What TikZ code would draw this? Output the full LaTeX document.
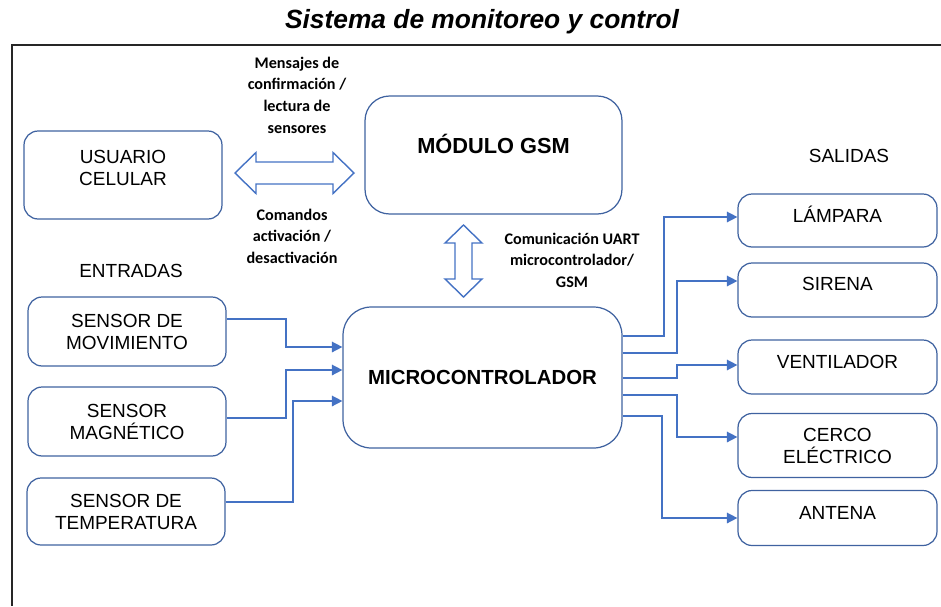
\documentclass[tikz,border=0pt]{standalone}
\usepackage{fontspec}
\setmainfont{Liberation Sans}
\newfontfamily\calibri{Carlito}
\usetikzlibrary{arrows.meta}
\definecolor{azul}{RGB}{68,114,196}
\definecolor{borde}{RGB}{63,98,160}

\begin{document}
\begin{tikzpicture}[x=0.02cm, y=-0.02cm,
  caja/.style={draw=borde, line width=0.7pt, rounded corners=8pt, align=center,
    font=\fontsize{10.8}{12.5}\selectfont, minimum width=3.96cm, inner sep=2pt},
  flecha/.style={draw=azul, line width=0.85pt, -{Triangle[length=6pt,width=6pt]}},
  bloque/.style={draw=azul, fill=white, line width=0.8pt, line join=miter},
  nota/.style={align=center, font=\calibri\bfseries\fontsize{9.2}{12.3}\selectfont}]
\useasboundingbox (0,0) rectangle (941,606);

% marco
\draw[line width=1.3pt, black!85] (941,45) -- (12,45) -- (12,606);
\node[font=\bfseries\itshape\fontsize{15}{18}\selectfont] (titulo) at (482,22) {Sistema de monitoreo y control};

% bloques principales
\node[caja, minimum height=1.76cm, text depth=0.28cm] (usuario) at (123,175) {USUARIO\\CELULAR};
\node[caja, minimum width=5.14cm, minimum height=2.36cm, rounded corners=14pt, text depth=0.44cm,
  font=\bfseries\fontsize{12.4}{14}\selectfont] (gsm) at (493.5,155) {MÓDULO GSM};
\node[caja, minimum width=5.58cm, minimum height=2.82cm, rounded corners=16pt,
  font=\bfseries\fontsize{11.6}{14}\selectfont] (mcu) at (482.5,377.5) {MICROCONTROLADOR};

% entradas
\node[font=\fontsize{10.8}{12.5}\selectfont] (entradas) at (131,271) {ENTRADAS};
\node[caja, minimum height=1.38cm] (movimiento) at (127,331.5) {SENSOR DE\\MOVIMIENTO};
\node[caja, minimum height=1.38cm] (magnetico) at (127,421.5) {SENSOR\\MAGNÉTICO};
\node[caja, minimum height=1.34cm] (temperatura) at (126,511.5) {SENSOR DE\\TEMPERATURA};

% salidas
\node[font=\fontsize{10.8}{12.5}\selectfont] (salidas) at (849,156) {SALIDAS};
\node[caja, minimum width=3.98cm, minimum height=1.06cm, text depth=0.26cm] (lampara) at (837.5,220.5) {LÁMPARA};
\node[caja, minimum width=3.98cm, minimum height=1.08cm, text depth=0.24cm] (sirena) at (837.5,290) {SIRENA};
\node[caja, minimum width=3.98cm, minimum height=1.08cm, text depth=0.22cm] (ventilador) at (837.5,367) {VENTILADOR};
\node[caja, minimum width=3.98cm, minimum height=1.28cm] (cerco) at (837.5,445.5) {CERCO\\ELÉCTRICO};
\node[caja, minimum width=3.98cm, minimum height=1.10cm, text depth=0.22cm] (antena) at (837.5,518) {ANTENA};

% comunicacion
\node[nota] (mensajes) at (297,95) {Mensajes de\\confirmación /\\lectura de\\sensores};
\node[nota] (comandos) at (292,236) {Comandos\\activación /\\desactivación};
\node[nota] (uart) at (572,260) {Comunicación UART\\microcontrolador/\\GSM};
\draw[bloque] (235,173) -- (256,152.5) -- (256,162) -- (333,162) -- (333,152.5) -- (354,173)
  -- (333,193.5) -- (333,184) -- (256,184) -- (256,193.5) -- cycle;
\draw[bloque] (463.5,225) -- (482,243) -- (472,243) -- (472,279) -- (482,279) -- (463.5,297)
  -- (445,279) -- (455,279) -- (455,243) -- (445,243) -- cycle;

% conexiones
\draw[flecha] (movimiento.east |- 0,319) -- (286,319) |- (mcu.west |- 0,347);
\draw[flecha] (magnetico.east |- 0,418) -- (286,418) |- (mcu.west |- 0,370);
\draw[flecha] (temperatura.east |- 0,502) -- (293,502) |- (mcu.west |- 0,401);
\draw[flecha] (mcu.east |- 0,336) -- (664,336) |- (lampara.west |- 0,217);
\draw[flecha] (mcu.east |- 0,353) -- (677,353) |- (sirena.west |- 0,281);
\draw[flecha] (mcu.east |- 0,378) -- (677,378) |- (ventilador.west |- 0,365);
\draw[flecha] (mcu.east |- 0,395) -- (677,395) |- (cerco.west |- 0,437);
\draw[flecha] (mcu.east |- 0,416) -- (662,416) |- (antena.west |- 0,518);
\end{tikzpicture}
\end{document}
